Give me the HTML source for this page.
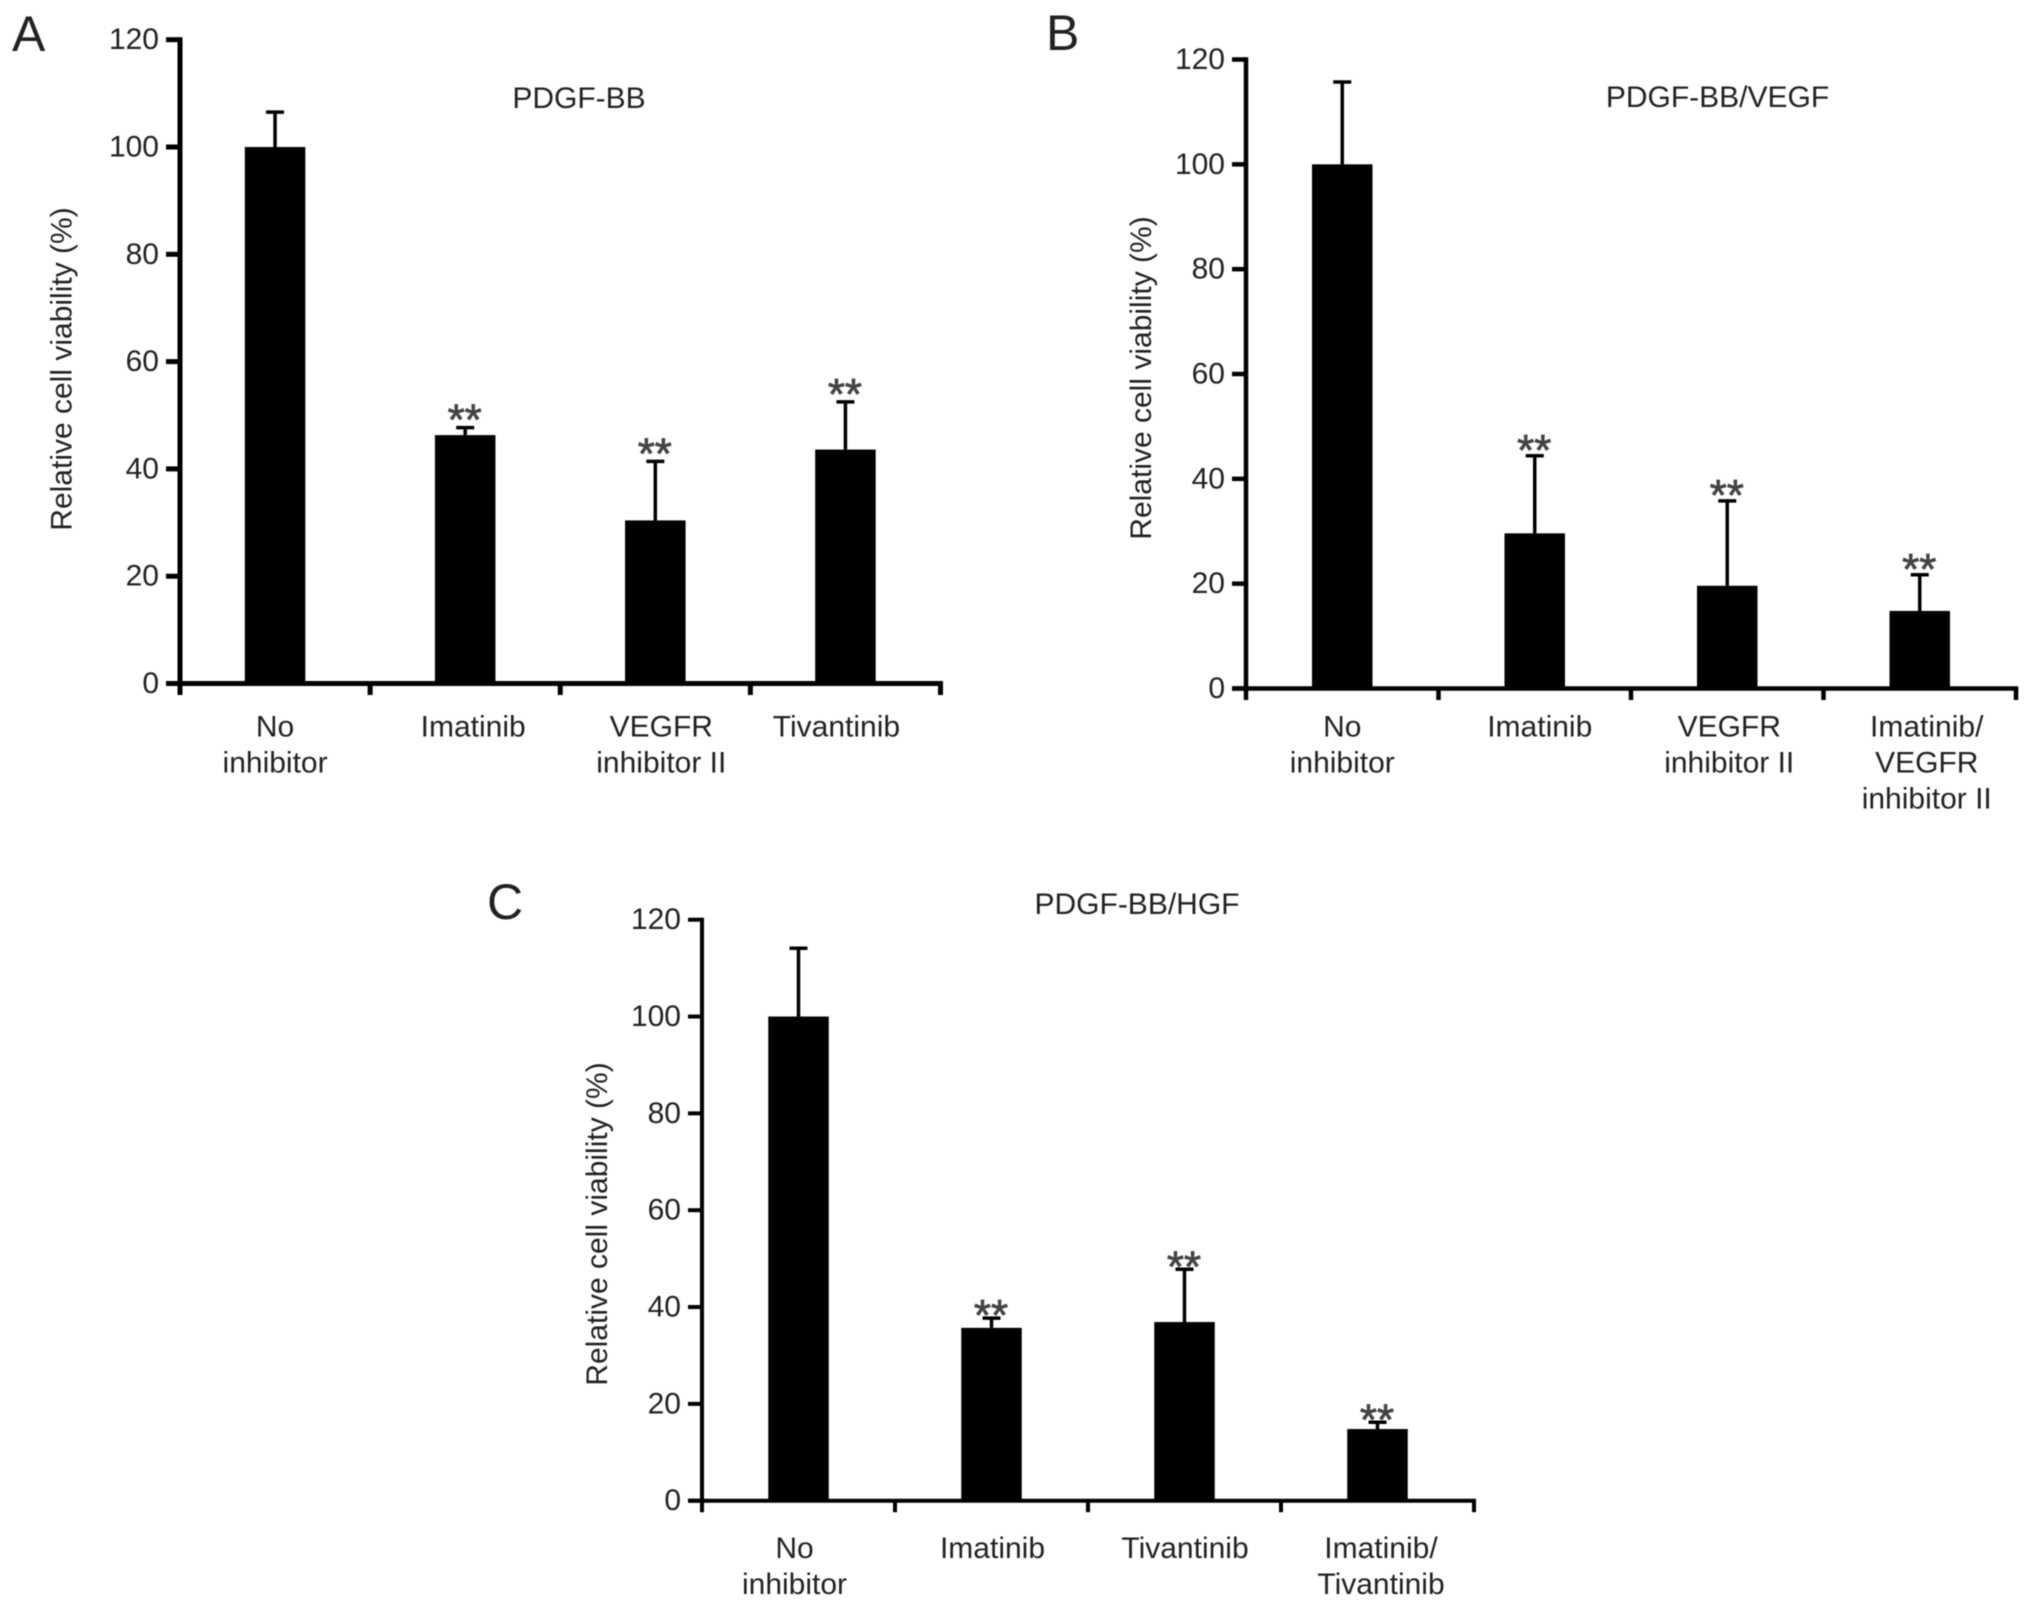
<!DOCTYPE html>
<html lang="en">
<head>
<meta charset="utf-8">
<title>Relative cell viability by inhibitor</title>
<style>
  html, body { margin: 0; padding: 0; background: #fff; }
  #figure { display: block; width: 2032px; height: 1607px; filter: blur(0.6px); }
  text { font-family: "Liberation Sans", Arial, sans-serif; fill: #222; }
</style>
</head>
<body>
<svg id="figure" xmlns="http://www.w3.org/2000/svg" width="2032" height="1607" viewBox="0 0 2032 1607">
  <rect x="0" y="0" width="2032" height="1607" fill="#fff"></rect>
  <g id="panel-a"></g>
  <g id="panel-b"></g>
  <g id="panel-c"></g>
</svg>
<script>
// ---- chart data ----
const tickLabels = [0, 20, 40, 60, 80, 100, 120];

const categoriesA = ['No\ninhibitor', 'Imatinib', 'VEGFR\ninhibitor II', 'Tivantinib'];
const valuesA = [100, 46.3, 30.4, 43.6];
const errorsA = [6.5, 1.4, 11, 8.9];
const significanceA = ['', '**', '**', '**'];

const categoriesB = ['No\ninhibitor', 'Imatinib', 'VEGFR\ninhibitor II', 'Imatinib/\nVEGFR\ninhibitor II'];
const valuesB = [100, 29.6, 19.6, 14.8];
const errorsB = [15.7, 14.8, 16.2, 6.9];
const significanceB = ['', '**', '**', '**'];

const categoriesC = ['No\ninhibitor', 'Imatinib', 'Tivantinib', 'Imatinib/\nTivantinib'];
const valuesC = [100, 35.7, 36.9, 14.8];
const errorsC = [14.1, 2, 10.9, 1.4];
const significanceC = ['', '**', '**', '**'];

// ---- layout (not data) ----
const SVG_NS = 'http://www.w3.org/2000/svg';
const FONT = 30;

const panelA = {
  root: 'panel-a', letter: 'A', letterX: 12, letterY: 51, title: 'PDGF-BB', titleX: 579, titleY: 108,
  left: 180, right: 940.5, y0: 683.5, y120: 39.7, axisW: 5, yTitleX: 71.5, yTitleY: 369,
  labelNudge: [0, 8, 6, -9], labelY: 736.5, lineH: 36, sigGap: 7,
  categories: categoriesA, values: valuesA, errors: errorsA, significance: significanceA
};
const panelB = {
  root: 'panel-b', letter: 'B', letterX: 1046, letterY: 50, title: 'PDGF-BB/VEGF', titleX: 1717.5, titleY: 107,
  left: 1246, right: 2016, y0: 688.5, y120: 59.5, axisW: 4.5, yTitleX: 1151, yTitleY: 378,
  labelNudge: [0, 5, 2, 7], labelY: 736.5, lineH: 36, sigGap: 9,
  categories: categoriesB, values: valuesB, errors: errorsB, significance: significanceB
};
const panelC = {
  root: 'panel-c', letter: 'C', letterX: 487, letterY: 919, title: 'PDGF-BB/HGF', titleX: 1137, titleY: 914,
  left: 702, right: 1474, y0: 1500.7, y120: 919.7, axisW: 4, yTitleX: 607, yTitleY: 1224,
  labelNudge: [-4, 1, 0.5, 3.5], labelY: 1558, lineH: 36, sigGap: 12,
  categories: categoriesC, values: valuesC, errors: errorsC, significance: significanceC
};

function line(parent, x1, y1, x2, y2, w) {
  const el = document.createElementNS(SVG_NS, 'line');
  el.setAttribute('x1', x1);
  el.setAttribute('y1', y1);
  el.setAttribute('x2', x2);
  el.setAttribute('y2', y2);
  el.setAttribute('stroke', '#000');
  el.setAttribute('stroke-width', w);
  parent.appendChild(el);
  return el;
}

function label(parent, x, y, str, anchor, size) {
  const el = document.createElementNS(SVG_NS, 'text');
  el.setAttribute('x', x);
  el.setAttribute('y', y);
  el.setAttribute('text-anchor', anchor);
  el.setAttribute('font-size', size);
  el.textContent = str;
  parent.appendChild(el);
  return el;
}

function drawPanel(p) {
  const g = document.getElementById(p.root);
  const yScale = v => p.y0 - (v / 120) * (p.y0 - p.y120);
  const step = (p.right - p.left) / p.categories.length;
  const xScale = i => p.left + (i + 0.5) * step;
  const barW = 60.5;

  // panel letter and title
  const letter = label(g, p.letterX, p.letterY, p.letter, 'start', 50);
  
  
  const title = label(g, p.titleX, p.titleY, p.title, 'middle', FONT);
  
  

  // y axis title
  const yTitle = label(g, 0, 0, 'Relative cell viability (%)', 'middle', FONT);
  yTitle.setAttribute('transform', 'translate(' + p.yTitleX + ' ' + p.yTitleY + ') rotate(-90)');
  
  

  // bars, error bars, significance markers
  p.values.forEach((v, i) => {
    const bar = document.createElementNS(SVG_NS, 'rect');
    bar.setAttribute('x', xScale(i) - barW / 2);
    bar.setAttribute('y', yScale(v));
    bar.setAttribute('width', barW);
    bar.setAttribute('height', p.y0 - yScale(v));
    bar.setAttribute('fill', '#000');
    
    
    g.appendChild(bar);

    const errTop = yScale(v + p.errors[i]);
    const stem = line(g, xScale(i), yScale(v), xScale(i), errTop, 3.5);
    
    
    const cap = line(g, xScale(i) - 9, errTop, xScale(i) + 9, errTop, 3.5);
    
    

    if (p.significance[i]) {
      const sig = label(g, xScale(i) - 0.5, errTop + p.sigGap, p.significance[i], 'middle', 44);
      sig.style.fill = '#444';
      sig.style.stroke = '#444';
      sig.style.strokeWidth = '0.8px';
      
      
    }
  });

  // axes
  const yAxis = line(g, p.left, p.y120 - p.axisW / 2, p.left, p.y0 + 11.5, p.axisW);
  
  
  const xAxis = line(g, p.left - 14, p.y0, p.right + p.axisW / 2, p.y0, p.axisW);
  
  

  // y ticks
  tickLabels.forEach(t => {
    const tick = line(g, p.left - 14, yScale(t), p.left, yScale(t), p.axisW);
    
    
    const txt = label(g, p.left - 21, yScale(t) + 9.5, String(t), 'end', FONT);
    
    
  });

  // x ticks
  for (let i = 1; i <= p.categories.length; i++) {
    const x = p.left + i * step;
    const tick = line(g, x, p.y0, x, p.y0 + 11.5, p.axisW);
    
    
  }

  // category labels
  p.categories.forEach((c, i) => {
    c.split('\n').forEach((part, k) => {
      const txt = label(g, xScale(i) + p.labelNudge[i], p.labelY + k * p.lineH, part, 'middle', FONT);
      
      
    });
  });
}

drawPanel(panelA);
drawPanel(panelB);
drawPanel(panelC);
</script>
</body>
</html>
